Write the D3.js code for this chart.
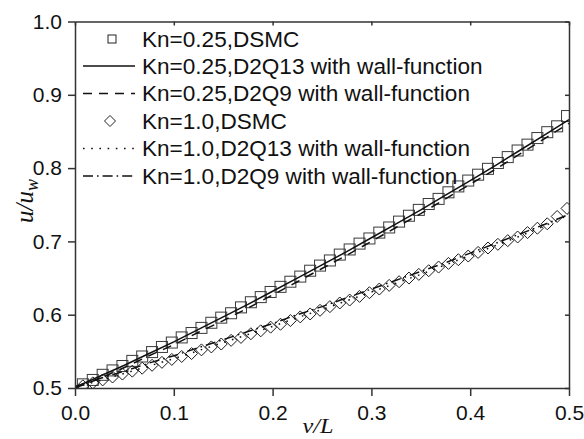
<!DOCTYPE html>
<html>
<head>
<meta charset="utf-8">
<script src="https://d3js.org/d3.v7.min.js"></script>
<style>
body{margin:0;background:#fff;}
</style>
</head>
<body>
<svg id="chart" width="584" height="439"></svg>
<script>
// DSMC sample positions (y/L) and velocities
var dsmcX = [0.008,0.018,0.028,0.038,0.048,0.058,0.068,0.078,0.088,0.098,
  0.108,0.118,0.128,0.138,0.148,0.158,0.168,0.178,0.188,0.198,
  0.208,0.218,0.228,0.238,0.248,0.258,0.268,0.278,0.288,0.298,
  0.308,0.318,0.328,0.338,0.348,0.358,0.368,0.378,0.388,0.398,
  0.408,0.418,0.428,0.438,0.448,0.458,0.468,0.478,0.488,0.498];

var kn025Dsmc = [0.505,0.511,0.518,0.524,0.530,0.537,0.543,0.549,0.556,0.562,
  0.569,0.575,0.582,0.589,0.596,0.602,0.610,0.617,0.624,0.631,
  0.638,0.645,0.652,0.660,0.667,0.674,0.682,0.689,0.697,0.704,
  0.712,0.719,0.727,0.735,0.743,0.751,0.758,0.767,0.775,0.783,
  0.791,0.799,0.807,0.815,0.824,0.832,0.841,0.849,0.857,0.871];

var kn10Dsmc = [0.503,0.507,0.511,0.515,0.519,0.523,0.527,0.531,0.535,0.539,
  0.543,0.547,0.552,0.556,0.560,0.565,0.569,0.574,0.578,0.583,
  0.587,0.592,0.597,0.601,0.606,0.611,0.616,0.620,0.625,0.630,
  0.635,0.640,0.645,0.650,0.655,0.660,0.665,0.670,0.675,0.680,
  0.685,0.691,0.696,0.701,0.706,0.712,0.718,0.724,0.734,0.745];

// lattice Boltzmann curves
var lineX = [0,0.025,0.05,0.075,0.1,0.125,0.15,0.175,0.2,0.225,0.25,
  0.275,0.3,0.325,0.35,0.375,0.4,0.425,0.45,0.475,0.5];
var kn025D2Q13 = [0.501,0.516,0.531,0.547,0.563,0.580,0.597,0.614,0.632,0.650,0.668,
  0.686,0.705,0.724,0.743,0.763,0.783,0.803,0.824,0.845,0.866];
var kn025D2Q9 = [0.500,0.513,0.528,0.544,0.559,0.576,0.592,0.609,0.627,0.645,0.663,
  0.681,0.700,0.719,0.738,0.758,0.778,0.798,0.819,0.840,0.861];
var kn10D2Q13 = [0.501,0.510,0.520,0.530,0.540,0.551,0.562,0.573,0.584,0.596,0.607,
  0.619,0.631,0.643,0.655,0.668,0.681,0.694,0.707,0.721,0.736];
var kn10D2Q9 = [0.502,0.513,0.523,0.534,0.544,0.555,0.566,0.577,0.588,0.600,0.611,
  0.623,0.635,0.647,0.659,0.671,0.684,0.697,0.710,0.723,0.737];

var xTicks = [0, 0.1, 0.2, 0.3, 0.4, 0.5];
var yTicks = [0.5, 0.6, 0.7, 0.8, 0.9, 1.0];
var legendLabels = ["Kn=0.25,DSMC", "Kn=0.25,D2Q13 with wall-function", "Kn=0.25,D2Q9 with wall-function",
  "Kn=1.0,DSMC", "Kn=1.0,D2Q13 with wall-function", "Kn=1.0,D2Q9 with wall-function"];

var svg = d3.select("#chart");
var pLeft = 75, pRight = 569, pTop = 21.5, pBottom = 388;

var x = d3.scaleLinear().domain([0, 0.5]).range([pLeft, pRight]);
var y = d3.scaleLinear().domain([0.5, 1.0]).range([pBottom, pTop]);

svg.append("defs").append("clipPath").attr("id", "plotclip")
  .append("rect").attr("x", pLeft).attr("y", pTop)
  .attr("width", pRight - pLeft).attr("height", pBottom - pTop);

var plot = svg.append("g").attr("clip-path", "url(#plotclip)");

function drawLine(vals, dash){
  var line = d3.line()
    .x(function(d, i){ return x(lineX[i]); })
    .y(function(d){ return y(d); });
  plot.append("path")
    .datum(vals)
    .attr("d", line)
    .attr("fill", "none")
    .attr("stroke", "#111")
    .attr("stroke-width", 1.5)
    .attr("stroke-dasharray", dash);
}

var dashes = ["none", "9,7", "1.6,6.6", "10,4,1.6,4"];

// markers
plot.selectAll(".sq")
  .data(kn025Dsmc)
  .enter()
  .append("rect")
  .attr("class", "sq")
  .attr("x", function(d, i){ return x(dsmcX[i]) - 5.5; })
  .attr("y", function(d){ return y(d) - 5.5; })
  .attr("width", 11)
  .attr("height", 11)
  .attr("fill", "none")
  .attr("stroke", "#3a3a3a")
  .attr("stroke-width", 1);

plot.selectAll(".dm")
  .data(kn10Dsmc)
  .enter()
  .append("path")
  .attr("class", "dm")
  .attr("d", function(d, i){
    var cx = x(dsmcX[i]), cy = y(d), r = 6;
    return "M" + cx + "," + (cy - r) + "L" + (cx + r) + "," + cy + "L" + cx + "," + (cy + r) + "L" + (cx - r) + "," + cy + "Z";
  })
  .attr("fill", "none")
  .attr("stroke", "#1a1a1a")
  .attr("stroke-width", 1);

drawLine(kn025D2Q13, dashes[0]);
drawLine(kn025D2Q9, dashes[1]);
drawLine(kn10D2Q13, dashes[2]);
drawLine(kn10D2Q9, dashes[3]);

// axes
var fmt = d3.format(".1f");
svg.append("g").attr("transform", "translate(0," + pBottom + ")")
  .call(d3.axisBottom(x).tickValues(xTicks).tickFormat(fmt).tickSizeInner(8).tickSizeOuter(0).tickPadding(9));
svg.append("g").attr("transform", "translate(" + pLeft + ",0)")
  .call(d3.axisLeft(y).tickValues(yTicks).tickFormat(fmt).tickSizeInner(7).tickSizeOuter(0).tickPadding(6));
svg.append("g").attr("transform", "translate(0," + pTop + ")")
  .call(d3.axisBottom(x).tickValues(xTicks).tickFormat("").tickSizeInner(4).tickSizeOuter(0));
svg.append("g").attr("transform", "translate(" + pRight + ",0)")
  .call(d3.axisLeft(y).tickValues(yTicks).tickFormat("").tickSizeInner(4).tickSizeOuter(0));

svg.selectAll(".domain, .tick line").attr("stroke", "#333").attr("stroke-width", 1.5);
svg.selectAll(".tick text")
  .attr("font-family", "Liberation Sans, Arial, sans-serif")
  .attr("font-size", 21)
  .attr("fill", "#111");

// axis titles
svg.append("text")
  .attr("transform", "translate(318,433) scale(1.1,1)")
  .attr("text-anchor", "middle")
  .attr("font-family", "Liberation Serif, Times New Roman, serif")
  .attr("font-style", "italic")
  .attr("font-size", 22)
  .attr("fill", "#111")
  .text("v/L");

var yl = svg.append("text")
  .attr("transform", "translate(33,201) rotate(-90)")
  .attr("text-anchor", "middle")
  .attr("font-family", "Liberation Serif, Times New Roman, serif")
  .attr("font-style", "italic")
  .attr("font-size", 25)
  .attr("fill", "#111");
yl.append("tspan").text("u/u");
yl.append("tspan").attr("font-size", 18).attr("dy", 5).text("w");

// legend
var rowY = [39, 66, 93.5, 121, 148.5, 176];
var lg = svg.append("g");
legendLabels.forEach(function(lab, i){
  var cy = rowY[i];
  if(i == 0){
    lg.append("rect").attr("x", 108).attr("y", cy - 4).attr("width", 8).attr("height", 8)
      .attr("fill", "none").attr("stroke", "#222").attr("stroke-width", 1);
  } else if(i == 3){
    lg.append("path")
      .attr("d", "M110," + (cy - 5.5) + "L115.5," + cy + "L110," + (cy + 5.5) + "L104.5," + cy + "Z")
      .attr("fill", "none").attr("stroke", "#222").attr("stroke-width", 1);
  } else {
    var k = [0, 0, 1, 0, 2, 3][i];
    lg.append("line").attr("x1", 83).attr("x2", 135).attr("y1", cy).attr("y2", cy)
      .attr("stroke", "#111").attr("stroke-width", 1.5)
      .attr("stroke-dasharray", dashes[k]);
  }
  lg.append("text")
    .attr("transform", "translate(142," + (cy + 7.5) + ") scale(1.05,1)")
    .attr("font-family", "Liberation Sans, Arial, sans-serif")
    .attr("font-size", 21.5)
    .attr("fill", "#111")
    .text(lab);
});
</script>
</body>
</html>
